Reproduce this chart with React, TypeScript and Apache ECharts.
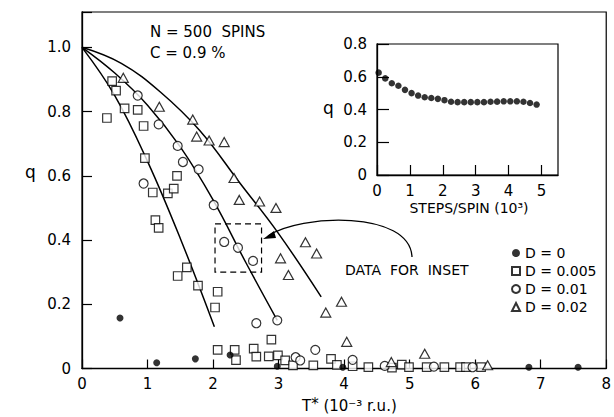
import React, { useEffect, useRef } from 'react';
import * as echarts from 'echarts';

// D = 0 (filled dots)
const dotsD0: number[][] = [
  [0.58, 0.157], [1.14, 0.018], [1.73, 0.03], [2.26, 0.042], [2.98, 0.007],
  [3.98, 0.004], [6.82, 0.004], [7.57, 0.004],
];
// D = 0.005 (open squares)
const squaresD005: number[][] = [
  [0.38, 0.78], [0.46, 0.895], [0.52, 0.865], [0.65, 0.81], [0.85, 0.805], [0.94, 0.755],
  [0.96, 0.655], [1.08, 0.548], [1.31, 0.545], [1.40, 0.56], [1.45, 0.60], [1.12, 0.462],
  [1.17, 0.438], [1.60, 0.315], [1.46, 0.288], [1.77, 0.258], [2.07, 0.239], [2.03, 0.19],
  [2.07, 0.058], [2.33, 0.058], [2.35, 0.026], [2.62, 0.062], [2.66, 0.037], [2.85, 0.038],
  [2.89, 0.09], [2.99, 0.041], [3.10, 0.025], [3.22, 0.01], [3.53, 0.01], [3.80, 0.03],
  [3.89, 0.011], [4.13, 0.007], [4.37, 0.004], [4.73, 0.003], [4.88, 0.012], [4.99, 0.004],
  [5.26, 0.004], [5.53, 0.004], [5.77, 0.004], [5.86, 0.004], [6.09, 0.004],
];
// D = 0.01 (open circles)
const circlesD01: number[][] = [
  [0.85, 0.85], [1.17, 0.76], [1.46, 0.693], [1.54, 0.643], [1.78, 0.62], [0.94, 0.576],
  [2.01, 0.509], [2.17, 0.394], [2.38, 0.376], [2.61, 0.335], [2.66, 0.141], [2.98, 0.15],
  [3.26, 0.035], [3.33, 0.025], [3.56, 0.058], [4.13, 0.027], [4.62, 0.008], [5.37, 0.006],
  [5.96, 0.004],
];
// D = 0.02 (open triangles)
const trianglesD02: number[][] = [
  [0.63, 0.905], [1.18, 0.815], [1.69, 0.775], [1.75, 0.722], [1.94, 0.71], [2.17, 0.705],
  [2.32, 0.593], [2.40, 0.525], [2.71, 0.52], [2.96, 0.50], [3.41, 0.393], [3.58, 0.358],
  [3.03, 0.343], [3.15, 0.291], [3.96, 0.208], [3.72, 0.174], [4.04, 0.083], [4.72, 0.02],
  [5.23, 0.046], [6.19, 0.01],
];
// fitted curves
const fitD005: number[][] = [[0, 1], [0.5, 0.85], [1.0, 0.645], [1.5, 0.405], [2.02, 0.13]];
const fitD01: number[][] = [[0, 1], [0.5, 0.92], [1.0, 0.82], [1.5, 0.69], [2.0, 0.525], [2.5, 0.33], [2.98, 0.15]];
const fitD02: number[][] = [[0, 1], [0.6, 0.95], [1.2, 0.86], [1.8, 0.74], [2.4, 0.58], [3.0, 0.42], [3.65, 0.223]];

// inset
const insetSteps: number[] = [
  0.05, 0.25, 0.45, 0.65, 0.85, 1.05, 1.25, 1.45, 1.65, 1.85, 2.05, 2.25, 2.45,
  2.65, 2.85, 3.05, 3.25, 3.45, 3.65, 3.85, 4.05, 4.25, 4.45, 4.65, 4.85,
];
const insetQ: number[] = [
  0.625, 0.59, 0.56, 0.545, 0.52, 0.50, 0.485, 0.475, 0.47, 0.465, 0.457, 0.447, 0.445,
  0.445, 0.445, 0.445, 0.445, 0.447, 0.448, 0.45, 0.45, 0.45, 0.447, 0.44, 0.43,
];

const legendNames = ['D = 0', 'D = 0.005', 'D = 0.01', 'D = 0.02'];

const FONT = 'DejaVu Sans';

export default function App() {
  const ref = useRef<HTMLDivElement>(null);
  useEffect(() => {
    const chart = echarts.init(ref.current!, null, { renderer: 'svg' });
    const axisLine = { show: true, lineStyle: { color: '#000', width: 1.3 } };
    const label = { color: '#000', fontSize: 15, fontFamily: FONT };
    const fmt = (v: number) => {
      if (Math.abs(v * 5 - Math.round(v * 5)) > 1e-6) return '';
      return v === 0 ? '0' : v.toFixed(1);
    };
    const openStyle = { color: '#fff', borderColor: '#000', borderWidth: 1.2 };
    const fitSeries = (data: number[][]) => ({
      type: 'line', xAxisIndex: 0, yAxisIndex: 0, data, smooth: 0.4, showSymbol: false,
      symbol: 'none', lineStyle: { color: '#000', width: 1.5 }, silent: true, z: 1,
    });
    chart.setOption({
      animation: false,
      backgroundColor: '#fff',
      grid: [
        { left: 82, top: 12, width: 527, height: 356.5, show: true, borderColor: '#000', borderWidth: 1.2 },
        { left: 377, top: 44, width: 181, height: 131, show: true, borderColor: '#000', borderWidth: 1.2, backgroundColor: '#fff' },
      ],
      xAxis: [
        {
          type: 'value', gridIndex: 0, min: 0, max: 8, interval: 1, axisLine,
          axisTick: { inside: true, length: 9, lineStyle: { color: '#000', width: 1.2 } },
          axisLabel: { ...label, margin: 8 }, splitLine: { show: false },
        },
        {
          type: 'value', gridIndex: 1, min: 0, max: 5.5, interval: 1, axisLine,
          axisTick: { inside: true, length: 10, lineStyle: { color: '#000', width: 1.2 } },
          axisLabel: { ...label, margin: 8, showMaxLabel: false }, splitLine: { show: false },
        },
      ],
      yAxis: [
        {
          type: 'value', gridIndex: 0, min: 0, max: 1.11, interval: 0.2, axisLine,
          axisTick: { inside: true, length: 10, lineStyle: { color: '#000', width: 1.2 } },
          axisLabel: { ...label, margin: 11, formatter: fmt }, splitLine: { show: false },
        },
        {
          type: 'value', gridIndex: 1, min: 0, max: 0.8, interval: 0.2, axisLine,
          axisTick: { inside: true, length: 12, lineStyle: { color: '#000', width: 1.2 } },
          axisLabel: { ...label, margin: 10, formatter: fmt }, splitLine: { show: false },
        },
      ],
      legend: {
        data: legendNames, orient: 'vertical', left: 506, top: 240, itemWidth: 8, itemHeight: 8,
        itemGap: 2, textStyle: { color: '#000', fontSize: 14, fontFamily: FONT, lineHeight: 16 },
        selectedMode: false,
      },
      series: [
        fitSeries(fitD005), fitSeries(fitD01), fitSeries(fitD02),
        {
          name: legendNames[0], type: 'scatter', xAxisIndex: 0, yAxisIndex: 0, data: dotsD0,
          symbol: 'circle', symbolSize: 7, itemStyle: { color: '#000' }, z: 5,
        },
        {
          name: legendNames[1], type: 'scatter', xAxisIndex: 0, yAxisIndex: 0, data: squaresD005,
          symbol: 'rect', symbolSize: 8.5, itemStyle: openStyle, z: 4,
        },
        {
          name: legendNames[2], type: 'scatter', xAxisIndex: 0, yAxisIndex: 0, data: circlesD01,
          symbol: 'circle', symbolSize: 9, itemStyle: openStyle, z: 4,
        },
        {
          name: legendNames[3], type: 'scatter', xAxisIndex: 0, yAxisIndex: 0, data: trianglesD02,
          symbol: 'triangle', symbolSize: [10, 9], itemStyle: openStyle, z: 4,
        },
        {
          type: 'scatter', xAxisIndex: 1, yAxisIndex: 1,
          data: insetSteps.map((s, i) => [s, insetQ[i]]),
          symbol: 'circle', symbolSize: 6.5, itemStyle: { color: '#000' }, z: 5,
        },
      ],
    });

    const a = chart.convertToPixel({ gridIndex: 0 }, [2.03, 0.45]) as number[];
    const b = chart.convertToPixel({ gridIndex: 0 }, [2.74, 0.30]) as number[];
    const txt = (text: string, x: number, y: number, size: number, extra: any = {}) => ({
      type: 'text', x, y, silent: true,
      style: { text, fill: '#000', fontSize: size, fontFamily: FONT, verticalAlign: 'middle', ...extra },
    });
    chart.setOption({
      graphic: [
        {
          type: 'rect', silent: true,
          shape: { x: a[0], y: a[1], width: b[0] - a[0], height: b[1] - a[1] },
          style: { fill: 'none', stroke: '#000', lineWidth: 1.2, lineDash: [6, 4] },
        },
        {
          type: 'bezierCurve', silent: true,
          shape: { x1: 268, y1: 236, cpx1: 300, cpy1: 214, cpx2: 410, cpy2: 210, x2: 412, y2: 257 },
          style: { fill: 'none', stroke: '#000', lineWidth: 1.3 },
        },
        {
          type: 'polygon', silent: true,
          shape: { points: [[263, 239], [274, 231], [276, 238]] },
          style: { fill: '#000' },
        },
        txt('DATA  FOR  INSET', 345, 270, 14),
        txt('N = 500  SPINS', 150, 32, 15),
        txt('C = 0.9 %', 150, 53, 15),
        txt('q', 25, 172, 17),
        txt('q', 323, 108, 17),
        txt('STEPS/SPIN (10³)', 469, 208, 14, { align: 'center' }),
        {
          type: 'text', x: 302, y: 406, silent: true,
          style: {
            text: '{t|T}{s|*}{t| (10⁻³ r.u.)}',
            verticalAlign: 'middle',
            rich: {
              t: { fontSize: 15, fontFamily: FONT, fill: '#000', lineHeight: 20 },
              s: { fontSize: 15, fontFamily: FONT, fill: '#000', lineHeight: 12, verticalAlign: 'top' },
            },
          },
        },
      ],
    });
    return () => chart.dispose();
  }, []);
  return (
    <div
      ref={ref}
      style={{ position: 'fixed', left: 0, top: 0, width: 614, height: 417, background: '#fff' }}
    />
  );
}
